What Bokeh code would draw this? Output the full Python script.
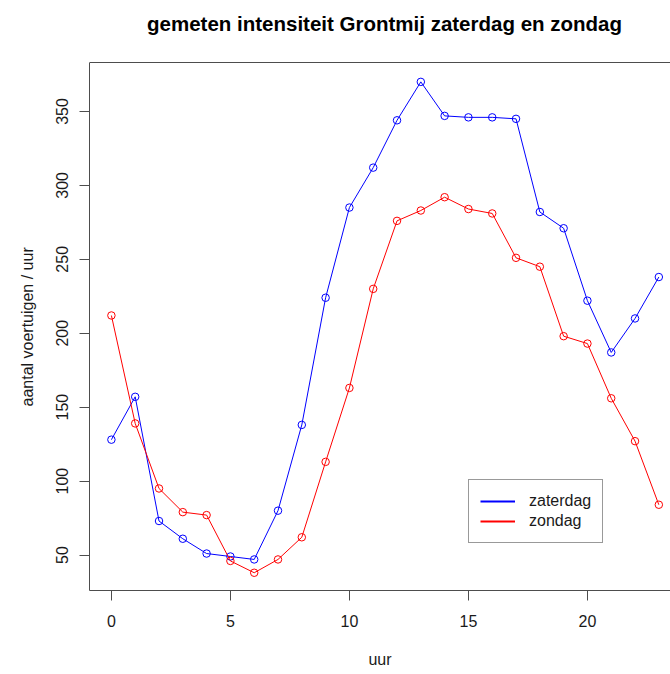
from bokeh.plotting import figure
from bokeh.models import Range1d, Span, Legend, LegendItem, FixedTicker, Label, Title
from bokeh.embed import file_html
from bokeh.resources import INLINE

# data
uur = list(range(24))
zaterdag = [128, 157, 73, 61, 51, 49, 47, 80, 138, 224, 285, 312, 344, 370,
            347, 346, 346, 345, 282, 271, 222, 187, 210, 238]
zondag = [212, 139, 95, 79, 77, 46, 38, 47, 62, 113, 163, 230, 276, 283,
          292, 284, 281, 251, 245, 198, 193, 156, 127, 84]
x_ticks = [0, 5, 10, 15, 20]
y_ticks = [50, 100, 150, 200, 250, 300, 350]
title_text = "gemeten intensiteit Grontmij zaterdag en zondag"
x_label = "uur"
y_label = "aantal voertuigen / uur"
series_names = ["zaterdag", "zondag"]
series_colors = ["#0000FF", "#FF0000"]

FONT = "Liberation Sans"
AX = "#4d4d4d"
TXT = "#1a1a1a"

W, H = 670, 674
BL, BT, BB = 89, 62, 84          # borders around the plotting box
box_y = (26, 383.1)              # y extent of the drawn box
box_h = H - BT - BB
y_top = box_y[1] + BT * (box_y[1] - box_y[0]) / box_h   # frame reaches canvas top

p = figure(width=W, height=H, output_backend="svg", toolbar_location=None,
           x_range=Range1d(-0.92, 23.49), y_range=Range1d(box_y[0], y_top),
           min_border_left=BL, min_border_right=0, min_border_top=0,
           min_border_bottom=BB, background_fill_color="white",
           border_fill_color="white", outline_line_color=None)

# title, in screen units measured from the bottom of the frame
p.add_layout(Label(x=384 - BL, y=(H - BB) - 23, x_units="screen", y_units="screen",
                   text=title_text, text_font=FONT, text_font_size="20.5px",
                   text_font_style="bold", text_color="#000000",
                   text_align="center", text_baseline="middle"))

p.xgrid.visible = False
p.ygrid.visible = False

for ax in (p.xaxis[0], p.yaxis[0]):
    ax.axis_line_color = AX
    ax.axis_line_width = 1
    ax.major_tick_line_color = AX
    ax.major_tick_in = 0
    ax.major_tick_out = 10
    ax.minor_tick_line_color = None
    ax.major_label_text_font = FONT
    ax.major_label_text_font_size = "16px"
    ax.major_label_text_color = TXT
    ax.axis_label_text_font = FONT
    ax.axis_label_text_font_size = "16px"
    ax.axis_label_text_font_style = "normal"
    ax.axis_label_text_color = TXT

p.xaxis[0].ticker = FixedTicker(ticks=x_ticks)
p.yaxis[0].ticker = FixedTicker(ticks=y_ticks)
p.yaxis[0].bounds = box_y
p.xaxis[0].axis_label = x_label
p.xaxis[0].major_label_standoff = 14
p.xaxis[0].axis_label_standoff = 21
p.yaxis[0].major_label_standoff = 11
p.yaxis[0].major_label_orientation = "vertical"

# y axis title, positioned along the box (start of text offset from box bottom)
p.add_layout(Title(text=y_label, align="left", vertical_align="top",
                   offset=184, standoff=32,
                   text_font=FONT, text_font_size="16px", text_font_style="normal",
                   text_color=TXT), "left")

# top border of the box
p.add_layout(Span(location=box_y[1], dimension="width", line_color=AX, line_width=1))

items = []
nan = float("nan")
for name, vals, col in zip(series_names, [zaterdag, zondag], series_colors):
    p.line(uur, vals, line_color=col, line_width=1)
    p.scatter(uur, vals, marker="circle", size=7.5, fill_color=None,
              line_color=col, line_width=1)
    # undrawn renderer only used for the (thicker) legend swatch
    key = p.line(x=[nan], y=[nan], line_color=col, line_width=2)
    items.append(LegendItem(label=name, renderers=[key]))

legend = Legend(items=items, location=(379, 47), orientation="vertical",
                border_line_color="#333333", border_line_width=1,
                background_fill_color="white", background_fill_alpha=1,
                label_text_font=FONT, label_text_font_size="16px",
                label_text_color=TXT, glyph_width=35, glyph_height=20,
                label_height=20, label_standoff=14, spacing=0, padding=11,
                margin=0)
p.add_layout(legend, "center")

open("out.html", "w").write(file_html(p, INLINE))
